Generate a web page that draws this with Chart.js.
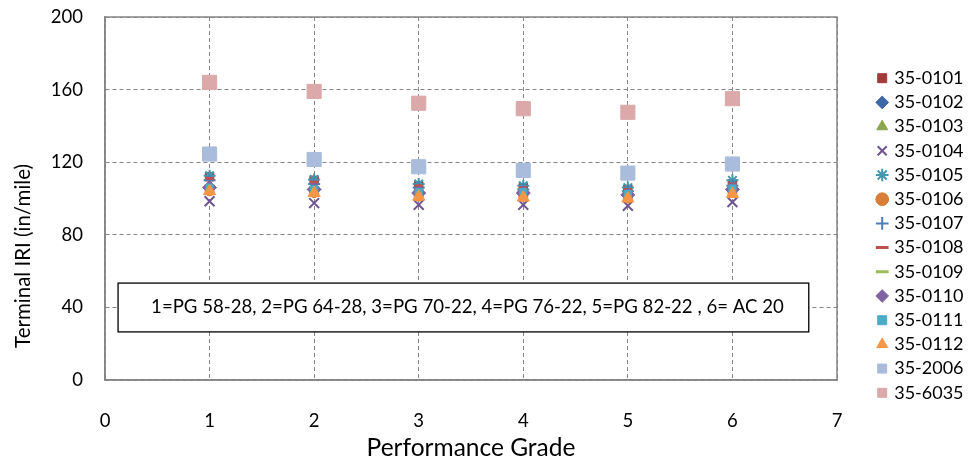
<!DOCTYPE html>
<html>
<head>
<meta charset="utf-8">
<script src="https://cdn.jsdelivr.net/npm/chart.js@4/dist/chart.umd.min.js"></script>
<style>
    html, body { margin: 0; padding: 0; background: #fff; }
</style>
</head>
<body>
<canvas id="myChart" width="969" height="459"></canvas>
<script>
// performance grades on the x axis
const grades = [1, 2, 3, 4, 5, 6];

const sectionNames = [
    '35-0101', '35-0102', '35-0103', '35-0104', '35-0105', '35-0106', '35-0107',
    '35-0108', '35-0109', '35-0110', '35-0111', '35-0112', '35-2006', '35-6035',
];

// terminal IRI (in/mile) per section, one value per grade
const iri0101 = [112, 110, 107, 106, 105, 108];
const iri0102 = [106, 105, 103, 103, 102, 105];
const iri0103 = [107, 106, 104, 104, 103, 106];
const iri0104 = [98.5, 97.5, 96.5, 96.5, 96, 98];
const iri0105 = [112.5, 110.5, 108, 107, 106, 110];
const iri0106 = [104, 103, 101, 101, 100, 103];
const iri0107 = [110, 108, 106, 105, 104, 107];
const iri0108 = [111, 109, 107, 106, 105, 108];
const iri0109 = [107, 106, 104, 103, 103, 106];
const iri0110 = [106, 105, 103, 103, 102, 105];
const iri0111 = [106, 105, 103.5, 103.5, 102.5, 105.5];
const iri0112 = [104, 103, 101, 100.5, 100, 102.5];
const iri2006 = [124.5, 121.5, 117.5, 115.5, 114, 119];
const iri6035 = [164, 159, 152.5, 149.5, 147.5, 155];

const seriesValues = [
    iri0101, iri0102, iri0103, iri0104, iri0105, iri0106, iri0107,
    iri0108, iri0109, iri0110, iri0111, iri0112, iri2006, iri6035,
];

const yTicks = [0, 40, 80, 120, 160, 200];
const xTicks = [0, 1, 2, 3, 4, 5, 6, 7];

const gradeNote = '1=PG 58-28, 2=PG 64-28, 3=PG 70-22, 4=PG 76-22, 5=PG 82-22 , 6= AC 20';

// marker look for each section
const markerStyles = [
    { style: 'rect', color: '#A33B3A', radius: 6, width: 1 },
    { style: 'rectRot', color: '#3C68A8', radius: 6, width: 1 },
    { style: 'triangle', color: '#8AA64F', radius: 6, width: 1 },
    { style: 'crossRot', color: '#6E5590', radius: 7, width: 2 },
    { style: 'star', color: '#4298AE', radius: 6, width: 2 },
    { style: 'circle', color: '#D97E36', radius: 4.5, width: 1 },
    { style: 'cross', color: '#4A7EBB', radius: 6, width: 2 },
    { style: 'line', color: '#C0504D', radius: 4, width: 3 },
    { style: 'line', color: '#9BBB59', radius: 5, width: 3 },
    { style: 'rectRot', color: '#8064A2', radius: 7, width: 1 },
    { style: 'rect', color: '#4BACC6', radius: 5, width: 1 },
    { style: 'triangle', color: '#F79646', radius: 7, width: 1 },
    { style: 'rect', color: '#A9BCDB', radius: 10, width: 1 },
    { style: 'rect', color: '#DBA9A9', radius: 10, width: 1 },
];

const fontFamily = 'Lato, "Open Sans", sans-serif';
const gridColor = '#868686';

const datasets = seriesValues.map((values, i) => ({
    label: sectionNames[i],
    data: values.map((v, j) => ({ x: grades[j], y: v })),
    pointStyle: markerStyles[i].style,
    pointRadius: markerStyles[i].radius,
    pointHoverRadius: markerStyles[i].radius,
    backgroundColor: markerStyles[i].color,
    borderColor: markerStyles[i].color,
    borderWidth: markerStyles[i].width,
    showLine: false,
    order: -i,
}));

// drop the half-label padding the scales ask for
const noScalePadding = (scale) => {
    scale.paddingTop = 0;
    scale.paddingBottom = 0;
    scale.paddingLeft = 0;
    scale.paddingRight = 0;
};

// frame, y title and the grade note box
const decorations = {
    id: 'decorations',
    afterInit(chart) {
        const legend = chart.legend;
        const fit = legend.fit;
        legend.fit = function () {
            fit.call(this);
            this.width = 132;
        };
    },
    afterLayout(chart) {
        const legend = chart.legend;
        legend.left += 36;
        legend.right += 36;
        legend.top -= 2.5;
        legend.bottom -= 2.5;
    },
    beforeDatasetsDraw(chart) {
        const { ctx, chartArea, scales } = chart;
        ctx.save();
        ctx.strokeStyle = gridColor;
        ctx.lineWidth = 1.5;
        ctx.strokeRect(chartArea.left, chartArea.top, chartArea.right - chartArea.left, chartArea.bottom - chartArea.top);

        const x1 = scales.x.getPixelForValue(0.125);
        const x2 = scales.x.getPixelForValue(6.73);
        const y1 = scales.y.getPixelForValue(53.4);
        const y2 = scales.y.getPixelForValue(26.5);
        ctx.fillStyle = '#fff';
        ctx.fillRect(x1, y1, x2 - x1, y2 - y1);
        ctx.strokeStyle = '#000';
        ctx.lineWidth = 1.3;
        ctx.strokeRect(x1, y1, x2 - x1, y2 - y1);
        ctx.fillStyle = '#000';
        ctx.font = '18.6px ' + fontFamily;
        ctx.textAlign = 'center';
        ctx.textBaseline = 'middle';
        ctx.fillText(gradeNote, (x1 + x2) / 2 + 4, scales.y.getPixelForValue(40));

        ctx.translate(23, 256);
        ctx.rotate(-Math.PI / 2);
        ctx.font = '20.5px ' + fontFamily;
        ctx.fillText('Terminal IRI (in/mile)', 0, 0);
        ctx.restore();
    },
};

const config = {
    type: 'scatter',
    data: { datasets: datasets },
    options: {
        responsive: false,
        animation: false,
        layout: {
            padding: { top: 17, right: 0, bottom: 0, left: 0 },
        },
        plugins: {
            legend: {
                position: 'right',
                labels: {
                    usePointStyle: true,
                    boxWidth: 6,
                    boxHeight: 9,
                    padding: 6.2,
                    color: '#000',
                    font: { family: fontFamily, size: 18 },
                    sort: (a, b) => a.datasetIndex - b.datasetIndex,
                },
            },
            tooltip: { enabled: false },
        },
        scales: {
            x: {
                type: 'linear',
                min: 0,
                max: 7,
                afterFit: (scale) => { scale.height = 79; noScalePadding(scale); },
                afterBuildTicks: (scale) => { scale.ticks = xTicks.map(v => ({ value: v })); },
                ticks: {
                    padding: 30,
                    color: '#000',
                    font: { family: fontFamily, size: 18.5 },
                },
                grid: {
                    color: gridColor,
                    lineWidth: 1,
                    drawTicks: false,
                },
                border: { color: gridColor, width: 1.5, dash: [4, 3] },
                title: {
                    display: true,
                    text: 'Performance Grade',
                    color: '#000',
                    font: { family: fontFamily, size: 24.5 },
                    padding: { top: 0, bottom: -4 },
                },
            },
            y: {
                type: 'linear',
                min: 0,
                max: 200,
                afterFit: (scale) => { scale.width = 105; noScalePadding(scale); },
                afterBuildTicks: (scale) => { scale.ticks = yTicks.map(v => ({ value: v })); },
                ticks: {
                    padding: 22,
                    color: '#000',
                    font: { family: fontFamily, size: 18.5 },
                },
                grid: {
                    color: gridColor,
                    lineWidth: 1,
                    drawTicks: false,
                },
                border: { color: gridColor, width: 1.5, dash: [4, 3] },
            },
        },
    },
    plugins: [decorations],
};

const myChart = new Chart(document.getElementById('myChart').getContext('2d'), config);
</script>
</body>
</html>
